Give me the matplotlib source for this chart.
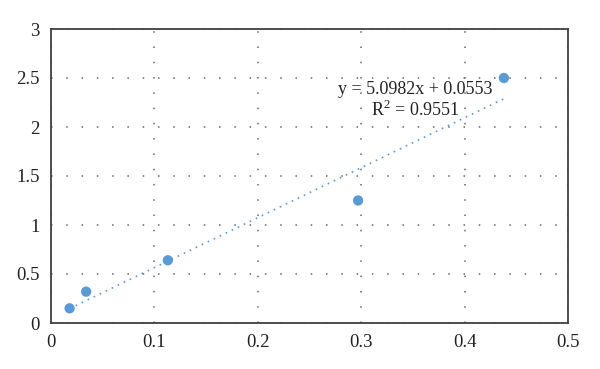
import matplotlib
matplotlib.use("Agg")
import matplotlib.pyplot as plt
import numpy as np

x_vals = [0.018, 0.034, 0.113, 0.297, 0.438]
y_vals = [0.15, 0.32, 0.64, 1.25, 2.50]
slope = 5.0982
intercept = 0.0553
eq_label = "y = 5.0982x + 0.0553"
r2_label = "R$^2$ = 0.9551"
x_ticks = [0, 0.1, 0.2, 0.3, 0.4, 0.5]
x_ticklabels = ["0", "0.1", "0.2", "0.3", "0.4", "0.5"]
y_ticks = [0, 0.5, 1, 1.5, 2, 2.5, 3]
y_ticklabels = ["0", "0.5", "1", "1.5", "2", "2.5", "3"]

plt.rcParams['font.family'] = ['Liberation Serif', 'DejaVu Serif']
plt.rcParams['mathtext.fontset'] = 'custom'
plt.rcParams['mathtext.rm'] = 'Liberation Serif'

fig = plt.figure(figsize=(6, 3.69), dpi=100)
ax = fig.add_axes([51/600, 1 - 323/369, (568-51)/600, (323-29)/369])

color = '#5B9BD5'
xs = np.array([min(x_vals), max(x_vals)])
ax.plot(xs, slope * xs + intercept, linestyle=(0, (1, 3)), color=color, linewidth=1.2, zorder=2)
ax.scatter(x_vals, y_vals, s=55, color=color, zorder=3, edgecolors='none')

ax.set_xlim(0, 0.5)
ax.set_ylim(0, 3)
ax.set_xticks(x_ticks)
ax.set_xticklabels(x_ticklabels)
ax.set_yticks(y_ticks)
ax.set_yticklabels(y_ticklabels)
ax.tick_params(length=0, labelsize=13.5, pad=8, colors='#222222')
ax.grid(True, linestyle=(0, (1, 9)), color='#666666', linewidth=1.1)
for s in ax.spines.values():
    s.set_color('#404040')
    s.set_linewidth(1.3)

ax.text(0.352, 2.38, eq_label, ha='center', va='center', fontsize=13, color='#222222')
ax.text(0.352, 2.17, r2_label, ha='center', va='center', fontsize=13, color='#222222')

fig.savefig("out.png", dpi=100)
